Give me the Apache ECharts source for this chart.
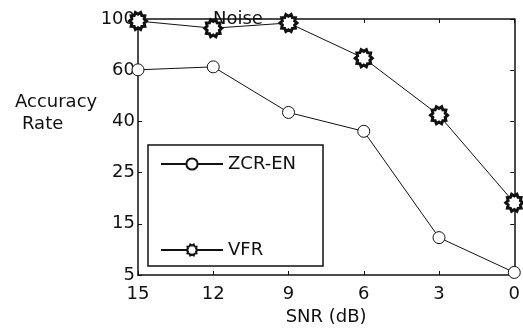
<!DOCTYPE html>
<html>
<head>
<meta charset="utf-8">
<script src="https://cdn.jsdelivr.net/npm/echarts@6/dist/echarts.min.js"></script>
<style>
html, body { margin: 0; padding: 0; background: #fff; }
#main { width: 523px; height: 331px; }
</style>
</head>
<body>
<div id="main"></div>
<script>
// SNR values on x axis (shown reversed, 15 -> 0)
var snr = [15, 12, 9, 6, 3, 0];
// y axis tick values, evenly spaced on the plot (non-linear scale)
var yTicks = [5, 15, 25, 40, 60, 100];
var zcrEn = [60.3, 62.6, 43.5, 37.1, 12.3, 5.5];
var vfr = [98.4, 92.8, 96.9, 69.4, 42.4, 19.1];

// map a value onto the tick-index scale used by the axis
function toPos(v) {
    for (var i = 0; i < yTicks.length - 1; i++) {
        if (v <= yTicks[i + 1]) {
            return i + (v - yTicks[i]) / (yTicks[i + 1] - yTicks[i]);
        }
    }
    return yTicks.length - 1;
}

function pairs(vals) {
    return snr.map(function (x, i) { return [x, toPos(vals[i])]; });
}

// gear-like marker
function gearPath(n, r1, r2) {
    var d = '';
    for (var i = 0; i < 2 * n; i++) {
        var a = i * Math.PI / n;
        var r = i % 2 ? r2 : r1;
        d += (i ? 'L' : 'M') + (50 + r * Math.cos(a)).toFixed(2) + ' ' + (50 + r * Math.sin(a)).toFixed(2);
    }
    return 'path://' + d + 'Z';
}

var font = 'DejaVu Sans';
var ink = '#111';
var fs = 18;

var axisBase = {
    type: 'value',
    axisLine: { show: true, onZero: false, lineStyle: { color: ink, width: 1.5 } },
    axisTick: { show: true, inside: true, length: 4, lineStyle: { color: ink } },
    splitLine: { show: false }
};

var myChart = echarts.init(document.getElementById('main'));
var option = {
    animation: false,
    textStyle: { fontFamily: font, color: ink },
    grid: { left: 138, right: 7, top: 19, bottom: 55 },
    legend: {
        orient: 'vertical',
        left: 148,
        top: 145,
        itemWidth: 62,
        itemHeight: 14,
        itemGap: 68,
        padding: [10, 27, 7, 12],
        borderColor: ink,
        borderWidth: 1.5,
        textStyle: { fontSize: fs, color: ink, fontFamily: font },
        data: ['ZCR-EN', 'VFR']
    },
    xAxis: [Object.assign({}, axisBase, {
        min: 0, max: 15, interval: 3,
        inverse: true,
        axisLabel: { fontSize: fs, color: ink, margin: 10, fontFamily: font },
        name: 'SNR (dB)',
        nameLocation: 'middle',
        nameGap: 33,
        nameTextStyle: { fontSize: fs, color: ink, fontFamily: font }
    }), Object.assign({}, axisBase, {
        position: 'top',
        min: 0, max: 15, interval: 3,
        inverse: true,
        axisLabel: { show: false }
    })],
    yAxis: [Object.assign({}, axisBase, {
        min: 0, max: 5, interval: 1,
        axisLabel: {
            fontSize: fs, color: ink, margin: 3, fontFamily: font,
            formatter: function (v) { return yTicks[v]; }
        }
    }), Object.assign({}, axisBase, {
        position: 'right',
        min: 0, max: 5, interval: 1,
        axisLabel: { show: false }
    })],
    graphic: [
        { type: 'text', left: 15, top: 93, style: { text: 'Accuracy', fontSize: fs, fill: ink, fontFamily: font } },
        { type: 'text', left: 22, top: 115, style: { text: 'Rate', fontSize: fs, fill: ink, fontFamily: font } },
        { type: 'text', left: 213, top: 10, style: { text: 'Noise', fontSize: fs, fill: ink, fontFamily: font } }
    ],
    series: [{
        name: 'ZCR-EN',
        type: 'line',
        data: pairs(zcrEn),
        symbol: 'circle',
        symbolSize: 12,
        lineStyle: { color: ink, width: 1 },
        itemStyle: { color: '#fff', borderColor: ink, borderWidth: 1 }
    }, {
        name: 'VFR',
        type: 'line',
        data: pairs(vfr),
        symbol: gearPath(10, 50, 38),
        symbolSize: 17,
        lineStyle: { color: ink, width: 1 },
        itemStyle: { color: '#fff', borderColor: ink, borderWidth: 3 }
    }]
};

myChart.setOption(option);
</script>
</body>
</html>
